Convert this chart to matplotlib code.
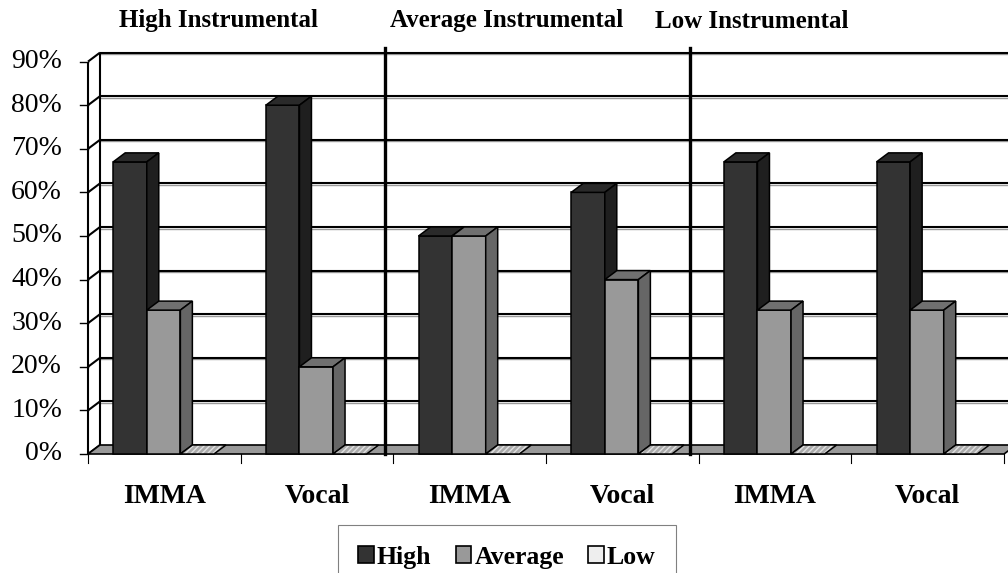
import matplotlib.pyplot as plt
from matplotlib.patches import Polygon, Patch

plt.rcParams['font.family'] = ['Liberation Serif', 'DejaVu Serif']

groups = ['High Instrumental', 'Average Instrumental', 'Low Instrumental']
categories = ['IMMA', 'Vocal', 'IMMA', 'Vocal', 'IMMA', 'Vocal']
series = ['High', 'Average', 'Low']
high = [67, 80, 50, 60, 67, 67]
average = [33, 20, 50, 40, 33, 33]
low = [0, 0, 0, 0, 0, 0]
yticks = [0, 10, 20, 30, 40, 50, 60, 70, 80, 90]

# face colours for each series: front, top, side
front_c = ['#333333', '#999999', '#c8c8c8']
top_c = ['#2a2a2a', '#707070', '#b8b8b8']
side_c = ['#1f1f1f', '#666666', '#a0a0a0']

fig = plt.figure(figsize=(10.08, 5.73), dpi=100)
ax = fig.add_axes([0, 0, 1, 1])
ax.set_xlim(-88 / 152.67, (1008 - 88) / 152.67)
ax.set_ylim(-(573 - 454) / 4.36, 454 / 4.36)
ax.axis('off')

# depth of the fake 3d box, in data units
dx = 12 / 152.67
dy = 9 / 4.36
n = len(categories)
ymax = yticks[-1]
line_kw = dict(color='black', lw=1.5, solid_capstyle='butt')

# back wall gridlines and left wall
for v in yticks:
    if v > 0:
        ax.plot([dx, n + dx + 0.1], [v + dy - 0.35, v + dy - 0.35],
                color='#9a9a9a', lw=1.0, zorder=1)
        ax.plot([dx, n + dx + 0.1], [v + dy, v + dy], zorder=1, **line_kw)
    ax.plot([0, dx], [v, v + dy], zorder=1, **line_kw)
    ax.plot([-0.052, 0], [v, v], color='black', lw=1, zorder=1)
    ax.text(-0.17, v, f'{v}%', ha='right', va='center', fontsize=20)
ax.plot([dx, dx], [dy, ymax + dy], zorder=1, **line_kw)
ax.plot([0, 0], [0, ymax], zorder=1, **line_kw)

# floor
ax.add_patch(Polygon([(0, 0), (n, 0), (n + dx, dy), (dx, dy)], closed=True,
                     facecolor='#999999', edgecolor='black', lw=1.2, zorder=2))

# section dividers
for s in [2, 4]:
    ax.plot([s - 0.055, s - 0.055], [0, ymax + dy + 1], color='black', lw=2.4,
            zorder=3)

# category ticks and labels
for i in range(n + 1):
    ax.plot([i, i], [0, -2], color='black', lw=0.8, zorder=2)
for i, c in enumerate(categories):
    ax.text(i + 0.5, -9.8, c, ha='center', va='center', fontsize=20,
            fontweight='bold')

w = 0.22
start = 0.165
for i in range(n):
    for k, vals in enumerate([high, average, low]):
        v = vals[i]
        x0 = i + start + k * w
        x1 = x0 + w
        z = 4 + k
        if v > 0:
            ax.bar(x0, v, width=w, align='edge', color=front_c[k],
                   edgecolor='black', lw=1.1, zorder=z)
            ax.add_patch(Polygon([(x0, v), (x1, v), (x1 + dx, v + dy),
                                  (x0 + dx, v + dy)], closed=True,
                                 facecolor=top_c[k], edgecolor='black',
                                 lw=1.1, zorder=z))
            ax.add_patch(Polygon([(x1, 0), (x1, v), (x1 + dx, v + dy),
                                  (x1 + dx, dy)], closed=True,
                                 facecolor=side_c[k], edgecolor='black',
                                 lw=1.1, zorder=z))
        else:
            tile = [(x0, 0), (x1, 0), (x1 + dx, dy), (x0 + dx, dy)]
            ax.add_patch(Polygon(tile, closed=True, facecolor='#aaaaaa',
                                 edgecolor='#e0e0e0', hatch='//////', lw=0,
                                 zorder=z))
            ax.add_patch(Polygon(tile, closed=True, facecolor='none',
                                 edgecolor='black', lw=1.1, zorder=z))

# section titles
for g, xp in zip(groups, [119, 390, 655]):
    fig.text(xp / 1008, 1 - 21 / 573, g, ha='left', va='center', fontsize=18,
             fontweight='bold')

handles = [Patch(facecolor=front_c[0], edgecolor='black', lw=1.2),
           Patch(facecolor=front_c[1], edgecolor='black', lw=1.2),
           Patch(facecolor='#eeeeee', edgecolor='black', lw=1.2)]
leg = fig.legend(handles, series, loc='upper center', ncol=3,
                 bbox_to_anchor=(507 / 1008, 1 - 525 / 573),
                 prop=dict(size=18.5, weight='bold'), frameon=True,
                 fancybox=False, edgecolor='#808080', framealpha=1,
                 handlelength=0.6, handleheight=0.6, handletextpad=0.12,
                 columnspacing=0.95, borderpad=0.8, borderaxespad=0)
leg.get_frame().set_linewidth(0.8)

plt.savefig('out.png', dpi=100)
